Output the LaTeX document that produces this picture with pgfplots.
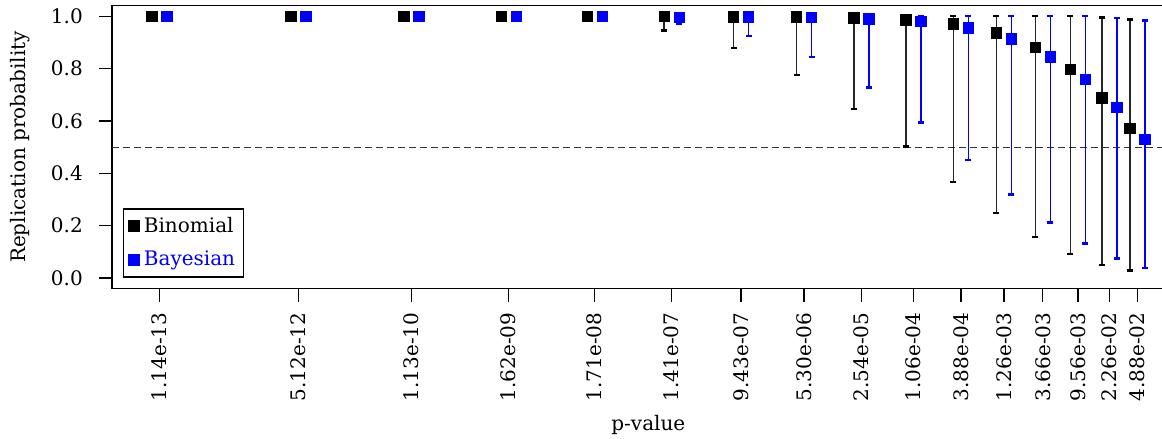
\documentclass[border=0pt]{standalone}
\usepackage{fontspec}
\setmainfont{DejaVu Serif}
\usepackage{pgfplots}
\pgfplotsset{compat=1.18}
\usepackage{pgfplotstable}

\pgfplotstableread{
x y lo hi
-12.943 1.000 1.000 1.000
-11.291 1.000 1.000 1.000
-9.947 1.000 1.000 1.000
-8.790 1.000 1.000 1.000
-7.767 0.999 0.990 1.000
-6.851 0.999 0.945 1.000
-6.025 0.998 0.878 1.000
-5.276 0.997 0.775 1.000
-4.595 0.994 0.645 1.000
-3.975 0.986 0.503 1.000
-3.411 0.971 0.366 1.000
-2.900 0.937 0.249 1.000
-2.437 0.880 0.156 1.000
-2.020 0.796 0.092 1.000
-1.646 0.689 0.050 0.996
-1.312 0.571 0.028 0.987
}\binomdata

\pgfplotstableread{
x y lo hi
-12.943 1.000 1.000 1.000
-11.291 1.000 1.000 1.000
-9.947 1.000 1.000 1.000
-8.790 1.000 1.000 1.000
-7.767 0.999 0.992 1.000
-6.851 0.995 0.972 1.000
-6.025 0.997 0.924 1.000
-5.276 0.996 0.844 1.000
-4.595 0.990 0.728 1.000
-3.975 0.980 0.595 1.000
-3.411 0.956 0.450 1.000
-2.900 0.914 0.320 1.000
-2.437 0.845 0.211 1.000
-2.020 0.758 0.131 1.000
-1.646 0.651 0.074 0.993
-1.312 0.529 0.039 0.984
}\bayesdata

\begin{document}
\begin{tikzpicture}[font=\fontsize{10}{12}\selectfont]
\begin{axis}[
  name=ax,
  scale only axis,
  width=536.35pt, height=141.4pt,
  xmin=-13.505, xmax=-0.750,
  ymin=-0.04, ymax=1.04,
  axis line style={line width=0.65pt},
  tick align=outside,
  major tick length=6.5pt,
  every tick/.style={black, line width=0.65pt},
  xtick pos=bottom, ytick pos=left,
  xtick={-12.943,-11.291,-9.947,-8.790,-7.767,-6.851,-6.025,-5.276,-4.595,-3.975,-3.411,-2.900,-2.437,-2.020,-1.646,-1.312},
  xticklabels={1.14e-13,5.12e-12,1.13e-10,1.62e-09,1.71e-08,1.41e-07,9.43e-07,5.30e-06,2.54e-05,1.06e-04,3.88e-04,1.26e-03,3.66e-03,9.56e-03,2.26e-02,4.88e-02},
  xticklabel style={yshift=-2pt, rotate=90, anchor=east},
  ytick={0,0.2,0.4,0.6,0.8,1},
  yticklabel={\pgfmathprintnumber[fixed,fixed zerofill,precision=1,assume math mode=true]{\tick}},
  yticklabel style={anchor=east, xshift=-4.6pt},
  xlabel={p-value},
  ylabel={Replication probability},
  every axis x label/.style={at={(axis description cs:0.5,-0.4827)}, anchor=center},
  every axis y label/.style={at={(axis description cs:-0.0858,0.5)}, rotate=90, anchor=center},
  legend style={at={(axis description cs:0.01053,0.0389)}, anchor=south west,
    draw=black, line width=0.6pt, fill=white, inner sep=2pt, row sep=4pt,
    font=\fontsize{10}{12}\selectfont},
  legend cell align=left,
]
\addplot[black!80, line width=0.55pt, dash pattern=on 3.5pt off 2pt, forget plot]
  coordinates {(-13.505,0.5) (-0.75,0.5)};

\addplot[black, only marks, mark=square*, mark size=2.6pt,
  mark options={draw=black, fill=black, line width=0.3pt},
  legend image code/.code={\fill[black] (0pt,-2.7pt) rectangle (5.4pt,2.7pt);},
  error bars/.cd, y dir=both, y explicit,
  error bar style={line width=0.8pt, black!85},
  error mark options={black, line width=1.3pt, mark size=1.5pt, rotate=90}]
  table[x expr=\thisrow{x}-0.089, y=y,
        y error plus expr=\thisrow{hi}-\thisrow{y},
        y error minus expr=\thisrow{y}-\thisrow{lo}] {\binomdata};
\addlegendentry{Binomial}

\addplot[blue, only marks, mark=square*, mark size=2.6pt,
  mark options={draw=blue, fill=blue, line width=0.3pt},
  legend image code/.code={\fill[blue] (0pt,-2.7pt) rectangle (5.4pt,2.7pt);},
  error bars/.cd, y dir=both, y explicit,
  error bar style={line width=0.8pt, blue},
  error mark options={blue, line width=1.3pt, mark size=1.5pt, rotate=90}]
  table[x expr=\thisrow{x}+0.089, y=y,
        y error plus expr=\thisrow{hi}-\thisrow{y},
        y error minus expr=\thisrow{y}-\thisrow{lo}] {\bayesdata};
\addlegendentry{\textcolor{blue}{Bayesian}}
\end{axis}
\pgfresetboundingbox
\path[use as bounding box] ([xshift=-56pt,yshift=-75.25pt]ax.south west) rectangle ([xshift=525pt,yshift=2.85pt]ax.north west);
\end{tikzpicture}
\end{document}
